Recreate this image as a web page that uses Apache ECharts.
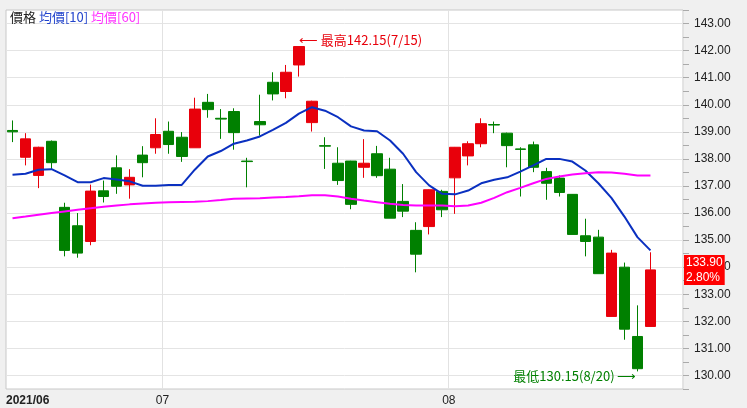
<!DOCTYPE html>
<html>
<head>
    <meta charset="utf-8">
    <title>價格 K線</title>
    <script src="https://cdn.jsdelivr.net/npm/echarts@6/dist/echarts.min.js"></script>
    <style>
        html, body { margin: 0; padding: 0; background: #f0f0f0; }
        #main { width: 747px; height: 408px; }
    </style>
</head>
<body>
<div id="main"></div>
<script>
    // 交易日 (2021/06/15 ~ 2021/08/23) + 右側留白兩格
    var dates = [
        '06/15', '06/16', '06/17', '06/18', '06/21', '06/22', '06/23', '06/24', '06/25', '06/28', '06/29', '06/30',
        '07/01', '07/02', '07/05', '07/06', '07/07', '07/08', '07/09', '07/12', '07/13', '07/14', '07/15', '07/16',
        '07/19', '07/20', '07/21', '07/22', '07/23', '07/26', '07/27', '07/28', '07/29', '07/30',
        '08/02', '08/03', '08/04', '08/05', '08/06', '08/09', '08/10', '08/11', '08/12', '08/13', '08/16', '08/17',
        '08/18', '08/19', '08/20', '08/23', '', ''
    ];

    // [開, 收, 低, 高]
    var ohlc = [
        [139.05, 139.00, 138.62, 139.42], [138.06, 138.74, 137.76, 138.95], [137.39, 138.43, 136.92, 138.45],
        [138.65, 137.86, 137.63, 138.68], [136.21, 134.62, 134.40, 136.38], [135.53, 134.52, 134.35, 136.00],
        [134.95, 136.81, 134.81, 137.05], [136.82, 136.61, 136.39, 137.20], [137.67, 136.99, 136.71, 138.13],
        [137.04, 137.32, 136.53, 137.62], [138.14, 137.86, 137.32, 138.47], [138.41, 138.90, 138.19, 139.50],
        [139.02, 138.53, 138.19, 139.38], [138.80, 138.09, 137.89, 138.99], [138.41, 139.84, 138.41, 140.26],
        [140.09, 139.82, 139.52, 140.40], [139.50, 139.47, 138.74, 139.84], [139.75, 138.97, 138.34, 139.87],
        [137.92, 137.90, 136.95, 138.04], [139.38, 139.26, 138.86, 140.37], [140.83, 140.40, 140.16, 141.20],
        [140.49, 141.20, 140.24, 141.47], [141.47, 142.15, 141.04, 142.15], [139.34, 140.13, 139.01, 140.15],
        [138.49, 138.47, 137.63, 138.80], [137.84, 137.20, 137.04, 138.43], [137.92, 136.32, 136.14, 137.93],
        [137.69, 137.84, 137.30, 138.73], [138.19, 137.38, 137.30, 138.48], [137.62, 135.81, 135.81, 138.04],
        [136.43, 136.07, 135.85, 137.07], [135.36, 134.48, 133.81, 135.66], [135.50, 136.86, 135.21, 136.87],
        [136.80, 136.12, 135.85, 136.86], [137.30, 138.43, 135.97, 138.44], [138.11, 138.56, 137.76, 138.65],
        [138.56, 139.30, 138.43, 139.50], [139.27, 139.25, 138.95, 139.38], [138.95, 138.49, 137.69, 138.97],
        [138.37, 138.35, 136.61, 138.43], [138.52, 137.69, 137.51, 138.64], [137.53, 137.10, 136.49, 137.67],
        [137.29, 136.76, 136.61, 137.39], [136.69, 135.21, 135.21, 136.70], [135.16, 134.95, 134.40, 135.79],
        [135.11, 133.76, 133.76, 135.38], [132.18, 134.52, 132.18, 134.64], [134.00, 131.71, 131.32, 134.17],
        [131.44, 130.25, 130.15, 132.59], [131.81, 133.90, 131.81, 134.55]
    ];

    var ma10 = [
        137.41, 137.45, 137.60, 137.62, 137.39, 137.14, 137.14, 137.29, 137.24, 137.17,
        137.01, 137.01, 137.04, 137.04, 137.60, 138.09, 138.29, 138.56, 138.68, 138.83,
        139.07, 139.33, 139.67, 139.91, 139.78, 139.54, 139.20, 139.05, 139.02, 138.68,
        138.19, 137.51, 137.02, 136.71, 136.69, 136.83, 137.10, 137.23, 137.32, 137.53,
        137.76, 138.00, 138.00, 137.90, 137.57, 137.10, 136.56, 135.87, 135.11, 134.62
    ];

    var ma60 = [
        135.81, 135.87, 135.94, 136.00, 136.06, 136.12, 136.18, 136.23, 136.28, 136.32,
        136.35, 136.38, 136.40, 136.41, 136.42, 136.44, 136.48, 136.53, 136.54, 136.55,
        136.57, 136.59, 136.62, 136.66, 136.66, 136.61, 136.53, 136.46, 136.40, 136.34,
        136.30, 136.28, 136.28, 136.28, 136.25, 136.28, 136.38, 136.56, 136.77, 136.93,
        137.10, 137.26, 137.35, 137.42, 137.47, 137.51, 137.50, 137.45, 137.39, 137.39
    ];

    // 月份分隔 (第一個交易日的索引)
    var monthStarts = [0, 12, 34];
    var monthLabels = ['2021/06', '07', '08'];

    var yMin = 129.5, yMax = 143.5;

    var upColor = '#e8000b', downColor = '#008000';
    var ma10Color = '#0a30c0', ma60Color = '#ff00ff';

    var lastIdx = ohlc.length - 1;
    var lastClose = ohlc[lastIdx][1];
    var pct = (lastClose - ohlc[lastIdx - 1][1]) / ohlc[lastIdx - 1][1] * 100;

    // 最高 / 最低
    var hiIdx = 0, loIdx = 0;
    ohlc.forEach(function (d, i) {
        if (d[3] > ohlc[hiIdx][3]) hiIdx = i;
        if (d[2] < ohlc[loIdx][2]) loIdx = i;
    });
    function md(s) {
        var p = s.split('/');
        return parseInt(p[0], 10) + '/' + parseInt(p[1], 10);
    }

    var chart = echarts.init(document.getElementById('main'));

    var option = {
        backgroundColor: '#f0f0f0',
        animation: false,
        title: {
            left: 5,
            top: 6,
            text: '{a|價格} {b|均價[10]} {c|均價[60]}',
            textStyle: {
                fontSize: 13,
                fontWeight: 'normal',
                fontFamily: 'Noto Sans CJK TC',
                rich: {
                    a: {color: '#222', fontSize: 13, fontFamily: 'Noto Sans CJK TC'},
                    b: {color: '#2244cc', fontSize: 13, fontFamily: 'Noto Sans CJK TC'},
                    c: {color: '#ff33ff', fontSize: 13, fontFamily: 'Noto Sans CJK TC'}
                }
            }
        },
        grid: {
            left: 6,
            right: 64,
            top: 10,
            bottom: 19,
            show: true,
            backgroundColor: '#ffffff',
            borderColor: '#c8c8c8',
            borderWidth: 1
        },
        xAxis: [{
            type: 'category',
            data: dates,
            boundaryGap: true,
            axisLine: {show: false},
            axisTick: {show: false},
            axisLabel: {show: false},
            splitLine: {
                show: true,
                interval: function (index) {
                    return index > 0 && monthStarts.indexOf(index) >= 0;
                },
                lineStyle: {color: '#e2e2e2', width: 1}
            }
        }, {
            type: 'value',
            position: 'bottom',
            min: -0.5,
            max: dates.length - 0.5,
            interval: 0.5,
            axisLine: {show: false, onZero: false},
            axisTick: {show: false},
            splitLine: {show: false},
            axisLabel: {
                margin: 6,
                align: 'left',
                color: '#222',
                fontSize: 12,
                fontFamily: 'Liberation Sans',
                formatter: function (v) {
                    if (v === monthStarts[0] - 0.5) return '{b|' + monthLabels[0] + '}';
                    for (var k = 1; k < monthStarts.length; k++) {
                        if (v === monthStarts[k] - 1) return monthLabels[k];
                    }
                    return '';
                },
                rich: {
                    b: {fontWeight: 'bold', fontSize: 12, color: '#222', fontFamily: 'Liberation Sans'}
                }
            }
        }],
        yAxis: {
            type: 'value',
            position: 'right',
            min: yMin,
            max: yMax,
            interval: 0.5,
            axisLine: {show: false, onZero: false},
            axisTick: {show: true, length: 6, lineStyle: {color: '#aaa'}},
            axisLabel: {
                margin: 11,
                color: '#222',
                fontSize: 12,
                fontFamily: 'Liberation Sans',
                formatter: function (v) {
                    return v % 1 === 0 ? v.toFixed(2) : '';
                }
            },
            splitLine: {
                show: true,
                lineStyle: {color: ['transparent', '#e4e4e4'], width: 1}
            }
        },
        series: [{
            name: '價格',
            type: 'candlestick',
            xAxisIndex: 0,
            data: ohlc,
            barWidth: 11,
            itemStyle: {
                color: upColor,
                color0: downColor,
                borderColor: upColor,
                borderColor0: downColor,
                borderWidth: 1
            },
            markPoint: {
                symbol: 'circle',
                symbolSize: 0,
                silent: true,
                data: [{
                    coord: [hiIdx, ohlc[hiIdx][3]],
                    label: {
                        show: true,
                        position: 'right',
                        distance: 0,
                        offset: [0, -6],
                        color: upColor,
                        fontSize: 13,
                        fontFamily: 'Noto Sans CJK TC',
                        formatter: '⟵ 最高' + ohlc[hiIdx][3].toFixed(2) + '(' + md(dates[hiIdx]) + ')'
                    }
                }, {
                    coord: [loIdx, ohlc[loIdx][2]],
                    label: {
                        show: true,
                        position: 'left',
                        distance: 1,
                        offset: [0, 5],
                        color: downColor,
                        fontSize: 13,
                        fontFamily: 'Noto Sans CJK TC',
                        formatter: '最低' + ohlc[loIdx][2].toFixed(2) + '(' + md(dates[loIdx]) + ') ⟶'
                    }
                }]
            },
            markLine: {
                silent: true,
                symbol: ['none', 'none'],
                lineStyle: {color: 'transparent', width: 0, type: 'solid'},
                data: [{yAxis: lastClose}],
                label: {
                    show: true,
                    position: 'end',
                    distance: 1,
                    backgroundColor: '#ff0000',
                    color: '#ffffff',
                    fontSize: 12,
                    lineHeight: 15,
                    padding: [0, 2, 0, 2],
                    fontFamily: 'Liberation Sans',
                    formatter: lastClose.toFixed(2) + '\n' + pct.toFixed(2) + '%'
                }
            }
        }, {
            name: '均價[10]',
            type: 'line',
            xAxisIndex: 0,
            data: ma10,
            symbol: 'none',
            lineStyle: {color: ma10Color, width: 2}
        }, {
            name: '均價[60]',
            type: 'line',
            xAxisIndex: 0,
            data: ma60,
            symbol: 'none',
            lineStyle: {color: ma60Color, width: 2}
        }]
    };

    chart.setOption(option);
</script>
</body>
</html>
